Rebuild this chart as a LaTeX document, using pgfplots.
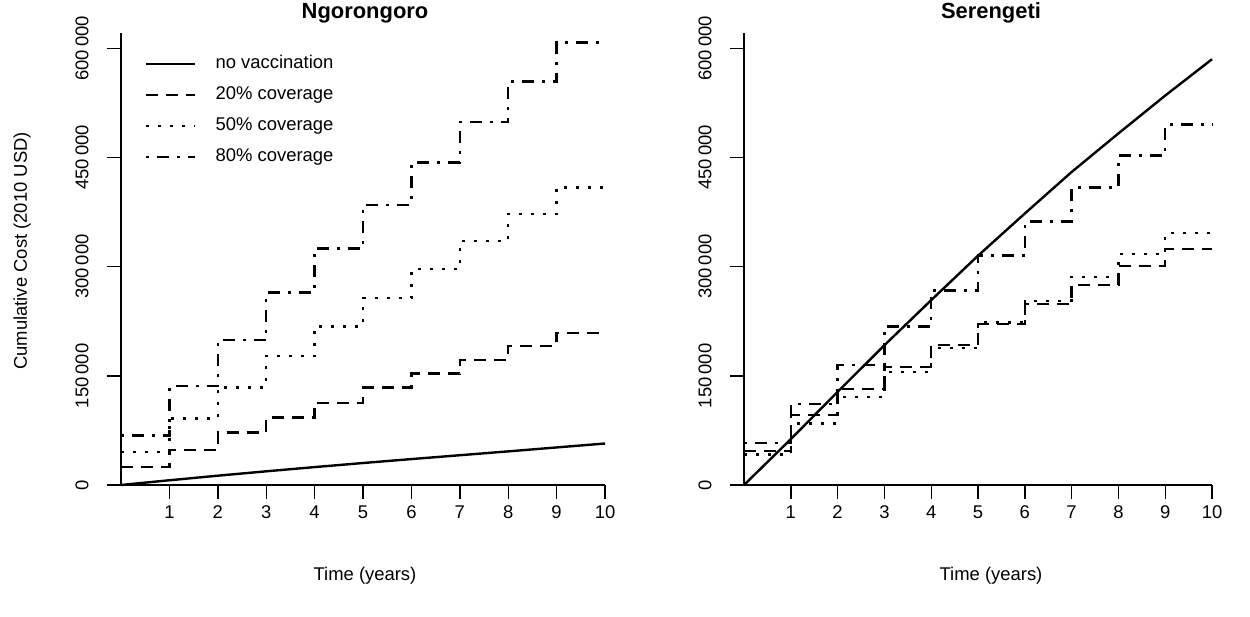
\documentclass[border=0pt]{standalone}
\usepackage{fontspec}
\setmainfont{Liberation Sans}
\usepackage{pgfplots}
\pgfplotsset{compat=1.18}

\pgfplotsset{
  myaxis/.style={
    scale only axis, height=452bp, xmin=0, xmax=10, ymin=0, ymax=621000,
    anchor=south west,
    axis lines*=left, axis line style={line width=2bp, black},
    xtick={1,...,10}, ytick={0,150000,300000,450000,600000},
    tick align=outside, major tick length=14bp,
    every tick/.style={black, line width=1.4bp},
    scaled y ticks=false,
    /pgf/number format/assume math mode=true,
    ticklabel style={font=\fontsize{18.5}{22}\selectfont},
    yticklabel style={/pgf/number format/fixed, /pgf/number format/1000 sep={\,}, rotate=90, anchor=center, yshift=25bp},
    xticklabel style={anchor=center, yshift=-13bp},
    clip=false,
  },
  nv/.style={black, line width=2.4bp, solid},
  c20/.style={black, line width=2.4bp, dash pattern=on 12bp off 8bp},
  c50/.style={black, line width=2.4bp, dash pattern=on 3bp off 9bp},
  c80/.style={black, line width=2.4bp, dash pattern=on 3bp off 8bp on 12bp off 8bp},
}

\begin{document}
\begin{tikzpicture}
\useasboundingbox (0,0) rectangle (1250bp,617bp);

% ---------------- Ngorongoro ----------------
\begin{axis}[myaxis, at={(121bp,132bp)}, width=484bp,
  legend style={draw=none, fill=none, at={(axis cs:0.496,593500)}, anchor=north west,
    font=\fontsize{18.5}{22}\selectfont, inner sep=0pt, row sep=10bp,
    nodes={inner sep=2bp, text height=13bp, text depth=4bp},
    /tikz/every odd column/.append style={column sep=17bp}},
  legend image code/.code={\draw[#1] (0bp,0bp) -- (49bp,0bp);},
  legend cell align=left]
\addplot[nv] coordinates {(0,0) (1,6500) (2,12800) (3,18800) (4,24600) (5,30200) (6,35600) (7,40900) (8,46200) (9,51600) (10,57000)};
\addlegendentry{no vaccination}
\addplot[c20, const plot] coordinates {(0,25000) (1,48000) (2,72000) (3,93000) (4,113000) (5,134000) (6,153000) (7,172000) (8,191000) (9,209000) (10,209000)};
\addlegendentry{20\% coverage}
\addplot[c50, const plot] coordinates {(0,45000) (1,91600) (2,134000) (3,177000) (4,218000) (5,257000) (6,296700) (7,335000) (8,372000) (9,408500) (10,408500)};
\addlegendentry{50\% coverage}
\addplot[c80, const plot] coordinates {(0,68000) (1,136000) (2,199000) (3,264700) (4,325000) (5,384700) (6,443000) (7,498700) (8,554600) (9,608000) (10,608000)};
\addlegendentry{80\% coverage}
\draw[line width=2bp] (axis cs:0,0) -- ++(-14bp,0);
\end{axis}

% ---------------- Serengeti ----------------
\begin{axis}[myaxis, at={(744bp,132bp)}, width=468bp]
\addplot[nv] coordinates {(0,0) (1,63000) (2,128000) (3,192000) (4,254000) (5,315000) (6,373000) (7,430000) (8,483000) (9,535000) (10,585000)};
\addplot[c20, const plot] coordinates {(0,47000) (1,96000) (2,132000) (3,162000) (4,192000) (5,221000) (6,249000) (7,274700) (8,300800) (9,324500) (10,324500)};
\addplot[c50, const plot] coordinates {(0,42000) (1,84700) (2,121000) (3,155600) (4,188000) (5,223000) (6,253000) (7,286000) (8,317000) (9,346000) (10,346000)};
\addplot[c80, const plot] coordinates {(0,58000) (1,111000) (2,165000) (3,217500) (4,267000) (5,315500) (6,362000) (7,408500) (8,452500) (9,495500) (10,495500)};
\draw[line width=2bp] (axis cs:0,0) -- ++(-14bp,0);
\end{axis}

\node[font=\bfseries\fontsize{22}{26}\selectfont] at (365bp,604bp) {Ngorongoro};
\node[font=\bfseries\fontsize{22}{26}\selectfont] at (991bp,604bp) {Serengeti};
\node[font=\fontsize{18.5}{22}\selectfont] at (365bp,41bp) {Time (years)};
\node[font=\fontsize{18.5}{22}\selectfont] at (991bp,41bp) {Time (years)};
\node[font=\fontsize{18.5}{22}\selectfont, rotate=90] at (22bp,366bp) {Cumulative Cost (2010 USD)};
\end{tikzpicture}
\end{document}
